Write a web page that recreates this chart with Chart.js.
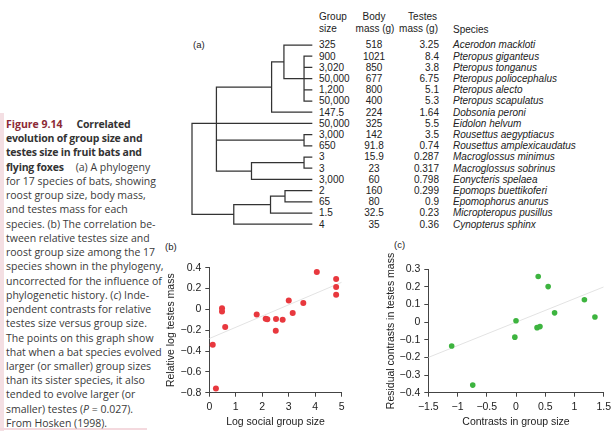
<!DOCTYPE html>
<html>
<head>
<meta charset="utf-8">
<script src="https://cdn.jsdelivr.net/npm/chart.js@4.4.0/dist/chart.umd.min.js"></script>
<style>
  html, body { margin: 0; padding: 0; background: #fff; }
  #page { position: relative; width: 615px; height: 433px; overflow: hidden;
          font-family: 'Liberation Sans', Arial, sans-serif; color: #222; }
  .abs { position: absolute; }
  #caption { left: 6px; top: 117px; font-family: 'Open Sans', sans-serif; font-size: 10.5px;
             line-height: 14.24px; color: #3a3a3a; white-space: nowrap; }
  #caption b { color: #333; letter-spacing: -0.2px; }
  #caption .fig { color: #8c2a36; letter-spacing: 0; }
  #stripL { left: 0; top: 113px; width: 4px; height: 318px; background: #f4dfe3; }
  #stripB { left: 0; top: 428px; width: 147px; height: 2px; background: #f4d9de; }
  .row { position: absolute; height: 11.2px; line-height: 11.2px; font-size: 10px; white-space: nowrap; }
  .lbl { font-size: 9.5px; }
</style>
</head>
<body>
<div id="page">
  <div id="stripL" class="abs"></div>
  <div id="stripB" class="abs"></div>
  <div id="caption" class="abs">
    <b class="fig">Figure 9.14</b><b style="margin-left:14px;">Correlated</b><br>
    <b>evolution of group size and</b><br>
    <b>testes size in fruit bats and</b><br>
    <b>flying foxes</b><span style="margin-left:12px;">(a) A phylogeny</span><br>
    for 17 species of bats, showing<br>
    roost group size, body mass,<br>
    and testes mass for each<br>
    species. (b) The correlation be-<br>
    tween relative testes size and<br>
    roost group size among the 17<br>
    species shown in the phylogeny,<br>
    uncorrected for the influence of<br>
    phylogenetic history. (<i>c</i>) Inde-<br>
    pendent contrasts for relative<br>
    testes size versus group size.<br>
    The points on this graph show<br>
    that when a bat species evolved<br>
    larger (or smaller) group sizes<br>
    than its sister species, it also<br>
    tended to evolve larger (or<br>
    smaller) testes (<i>P</i> = 0.027).<br>
    From Hosken (1998).
  </div>

  <div class="abs lbl" style="left:193px; top:39px;">(a)</div>
  <div class="abs lbl" style="left:165px; top:241px;">(b)</div>
  <div class="abs lbl" style="left:394px; top:239px;">(c)</div>
  <div id="table"></div>

  <div class="abs" style="left:186px; top:28px; width:132px; height:212px;">
    <canvas id="tree" width="132" height="212"></canvas>
  </div>
  <div class="abs" style="left:160px; top:250px; width:200px; height:183px;">
    <canvas id="chartB" width="200" height="183"></canvas>
  </div>
  <div class="abs" style="left:360px; top:250px; width:255px; height:183px;">
    <canvas id="chartC" width="255" height="183"></canvas>
  </div>
</div>

<script>
// (a) table, rows top to bottom
const groupSize = ['325', '900', '3,020', '50,000', '1,200', '50,000', '147.5', '50,000', '3,000',
  '650', '3', '3', '3,000', '2', '65', '1.5', '4']
const bodyMass = ['518', '1021', '850', '677', '800', '400', '224', '325', '142', '91.8', '15.9',
  '23', '60', '160', '80', '32.5', '35']
const testesMass = ['3.25', '8.4', '3.8', '6.75', '5.1', '5.3', '1.64', '5.5', '3.5', '0.74',
  '0.287', '0.317', '0.798', '0.299', '0.9', '0.23', '0.36']
const species = ['Acerodon mackloti', 'Pteropus giganteus', 'Pteropus tonganus',
  'Pteropus poliocephalus', 'Pteropus alecto', 'Pteropus scapulatus', 'Dobsonia peroni',
  'Eidolon helvum', 'Rousettus aegyptiacus', 'Rousettus amplexicaudatus', 'Macroglossus minimus',
  'Macroglossus sobrinus', 'Eonycteris spelaea', 'Epomops buettikoferi', 'Epomophorus anurus',
  'Micropteropus pusillus', 'Cynopterus sphinx']

// phylogeny: depth 0 = root, 10 = tips; kids are node names or table rows
const treeNodes = {
  root: { depth: 0, kids: ['A', 'H'] },
  A: { depth: 2.04, kids: ['B', 7, 'E', 'F'], row: 7 },
  B: { depth: 6.65, kids: ['C', 6] },
  C: { depth: 7.68, kids: [0, 'D'] },
  D: { depth: 9.36, kids: [1, 2, 3, 4, 5] },
  E: { depth: 9.36, kids: [8, 9] },
  F: { depth: 4.97, kids: ['G', 12] },
  G: { depth: 9.36, kids: [10, 11] },
  H: { depth: 3.49, kids: ['I', 16] },
  I: { depth: 6.56, kids: ['J', 15] },
  J: { depth: 7.77, kids: [13, 14] }
}
const tipDepth = 10

// (b) relative testes mass vs log group size
const logGroupSize = [0.13, 0.25, 0.48, 0.48, 0.6, 1.79, 2.13, 2.19, 2.51, 2.52, 2.77, 3.0,
  3.15, 3.55, 4.06, 4.79, 4.79, 4.79]
const relTestes = [-0.34, -0.76, 0.01, -0.02, -0.17, -0.05, -0.09, -0.095, -0.205, -0.093,
  -0.1, 0.086, -0.035, 0.061, 0.358, 0.291, 0.214, 0.141]
const fitBX = [0, 5]
const fitBY = [-0.28, 0.26]
const bTicksX = [0, 1, 2, 3, 4, 5]
const bTicksY = [-0.8, -0.6, -0.4, -0.2, 0, 0.2, 0.4]

// (c) independent contrasts
const groupContrast = [-1.1, -0.74, 0.0, -0.02, 0.36, 0.41, 0.38, 0.55, 0.66, 1.17, 1.35]
const testesContrast = [-0.135, -0.357, 0.008, -0.085, -0.031, -0.025, 0.259, 0.202, 0.053,
  0.127, 0.029]
const fitCX = [-1.5, 1.5]
const fitCY = [-0.2, 0.2]
const cTicksX = [-1.5, -1, -0.5, 0, 0.5, 1, 1.5]
const cTicksY = [-0.4, -0.3, -0.2, -0.1, 0, 0.1, 0.2, 0.3]

// table text
const rowTop = y => 39.4 + 11.2 * y
let html = ''
const hdr = (txt, style, line) =>
  `<div class="row" style="top:${rowTop(line - 2.5)}px;${style}">${txt}</div>`
html += hdr('Group', 'left:319px;', 0) + hdr('size', 'left:319px;', 1)
html += hdr('Body', 'left:334px;width:80px;text-align:center;', 0)
html += hdr('mass (g)', 'left:335px;width:80px;text-align:center;', 1)
html += hdr('Testes', 'left:357px;width:80px;text-align:right;', 0)
html += hdr('mass (g)', 'left:358px;width:80px;text-align:right;', 1)
html += hdr('Species', 'left:453px;', 1.15)
species.forEach((sp, i) => {
  const t = rowTop(i)
  html += `<div class="row" style="top:${t}px;left:319px;">${groupSize[i]}</div>`
  html += `<div class="row" style="top:${t}px;left:334px;width:80px;text-align:center;">${bodyMass[i]}</div>`
  html += `<div class="row" style="top:${t}px;left:359px;width:80px;text-align:right;">${testesMass[i]}</div>`
  html += `<div class="row" style="top:${t}px;left:453px;font-style:italic;">${sp}</div>`
})
document.getElementById('table').innerHTML = html

function nodeY(id) {
  if (typeof id === 'number') return id
  const n = treeNodes[id]
  if (n.row !== undefined) return n.row
  return (nodeY(n.kids[0]) + nodeY(n.kids[n.kids.length - 1])) / 2
}

function treeSegments() {
  const pts = []
  const gap = { x: null, y: null }
  for (const id in treeNodes) {
    const n = treeNodes[id]
    const ys = n.kids.map(nodeY)
    pts.push({ x: n.depth, y: Math.min(...ys) }, { x: n.depth, y: Math.max(...ys) }, gap)
    n.kids.forEach((k, i) => {
      const d = typeof k === 'number' ? tipDepth : treeNodes[k].depth
      pts.push({ x: n.depth, y: ys[i] }, { x: d, y: ys[i] }, gap)
    })
  }
  return pts
}

new Chart(document.getElementById('tree'), {
  type: 'scatter',
  data: {
    datasets: [{
      data: treeSegments(),
      showLine: true,
      borderColor: '#333',
      borderWidth: 1.25,
      borderCapStyle: 'square',
      pointRadius: 0,
      clip: false
    }]
  },
  options: {
    responsive: false,
    animation: false,
    layout: { padding: { left: 6, right: 6.3, top: 5.8, bottom: 4.6 } },
    plugins: { legend: { display: false }, tooltip: { enabled: false } },
    scales: {
      x: { type: 'linear', min: 0, max: tipDepth, display: false },
      y: { type: 'linear', min: -1, max: 17, reverse: true, display: false }
    }
  }
})

const fmt = v => {
  const r = Math.round(v * 10) / 10
  return r === 0 ? '0' : String(r).replace('-', '\u2212')
}

function axisOpts(ticks, range, title, extra) {
  return Object.assign({
    type: 'linear',
    min: range[0],
    max: range[1],
    afterBuildTicks: axis => { axis.ticks = ticks.map(v => ({ value: v })) },
    ticks: {
      color: '#222',
      font: { family: "'Liberation Sans', Arial, sans-serif", size: 10.5 },
      padding: 4,
      autoSkip: false,
      maxRotation: 0,
      callback: fmt
    },
    grid: { drawOnChartArea: false, drawTicks: true, tickLength: 4, color: '#444' },
    border: { display: true, color: '#444', width: 1 },
    title: {
      display: true,
      text: title,
      color: '#222',
      font: { family: "'Liberation Sans', Arial, sans-serif", size: 10.5 },
      padding: 0
    }
  }, extra)
}

function scatterChart(id, xs, ys, fx, fy, color, radius, xAxis, yAxis, padding) {
  return new Chart(document.getElementById(id), {
    type: 'scatter',
    data: {
      datasets: [
        {
          data: xs.map((x, i) => ({ x, y: ys[i] })),
          backgroundColor: color,
          borderColor: color,
          borderWidth: 0,
          pointRadius: radius,
          clip: false
        },
        {
          data: fx.map((x, i) => ({ x, y: fy[i] })),
          showLine: true,
          borderColor: '#e3e3e3',
          borderWidth: 1,
          pointRadius: 0
        }
      ]
    },
    options: {
      responsive: false,
      animation: false,
      layout: { padding },
      plugins: { legend: { display: false }, tooltip: { enabled: false } },
      scales: { x: xAxis, y: yAxis }
    }
  })
}

scatterChart('chartB', logGroupSize, relTestes, fitBX, fitBY, '#e8383e', 3,
  axisOpts(bTicksX, [0, 5], 'Log social group size',
    { afterFit: a => { a.height = 35.3 } }),
  axisOpts(bTicksY, [-0.8, 0.4], 'Relative log testes mass',
    { afterFit: a => { a.width = 44.6 } }),
  { left: 4.7, right: 18.3, top: 17.7, bottom: 5 })

scatterChart('chartC', groupContrast, testesContrast, fitCX, fitCY, '#3db43f', 2.8,
  axisOpts(cTicksX, [-1.5, 1.5], 'Contrasts in group size',
    { afterFit: a => { a.height = 35.3 } }),
  axisOpts(cTicksY, [-0.4, 0.3], 'Residual contrasts in testes mass',
    { afterFit: a => { a.width = 43.6 } }),
  { left: 24.7, right: 9.3, top: 19.3, bottom: 5 })
</script>
</body>
</html>
